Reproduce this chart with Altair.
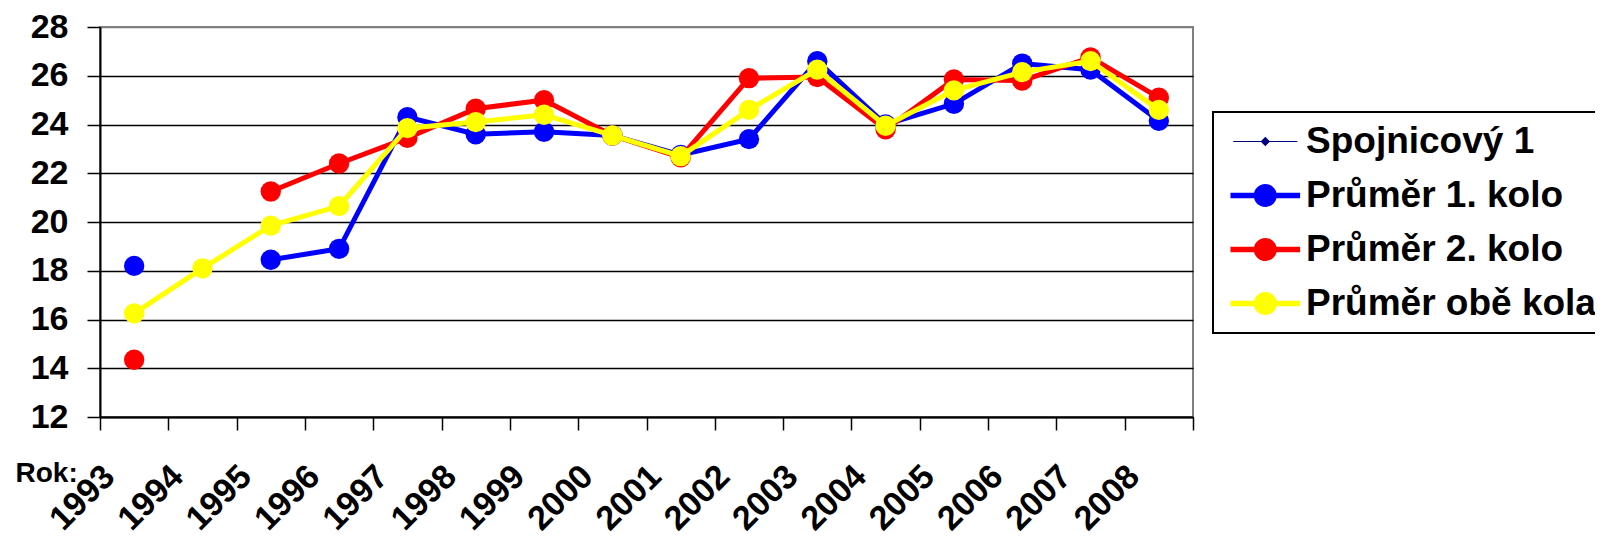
import altair as alt
import pandas as pd

years = ["1993", "1994", "1995", "1996", "1997", "1998", "1999", "2000",
         "2001", "2002", "2003", "2004", "2005", "2006", "2007", "2008"]
kolo1 = [18.2, None, 18.45, 18.9, 24.3, 23.6, 23.7, 23.55, 22.75, 23.4, 26.6, 24.0, 24.85, 26.5, 26.25, 24.15]
kolo2 = [14.35, None, 21.25, 22.4, 23.45, 24.65, 25.0, 23.55, 22.65, 25.9, 25.95, 23.8, 25.85, 25.8, 26.75, 25.1]
obe = [16.25, 18.1, 19.85, 20.65, 23.85, 24.1, 24.4, 23.55, 22.7, 24.6, 26.25, 23.95, 25.4, 26.15, 26.6, 24.6]

series_names = ["Spojnicový 1", "Průměr 1. kolo", "Průměr 2. kolo", "Průměr obě kola"]
series_colors = ["#000080", "#0000FF", "#FF0000", "#FFFF00"]

# legend symbol shapes (line with marker)
sym_circle = "M-1,-0.22L4.8,-0.22L4.8,0.22L-1,0.22Z M0.94,0A0.96,0.96,0,1,1,2.86,0A0.96,0.96,0,1,1,0.94,0Z"
sym_diamond = "M-0.77,-0.05L4.57,-0.05L4.57,0.05L-0.77,0.05Z M1.9,-0.39L2.29,0L1.9,0.39L1.51,0Z"
series_shapes = [sym_diamond, sym_circle, sym_circle, sym_circle]

rows = []
for name, vals in [(series_names[1], kolo1), (series_names[2], kolo2), (series_names[3], obe)]:
    for yr, v in zip(years, vals):
        rows.append({"rok": yr, "hodnota": v, "serie": name})
df = pd.DataFrame(rows)

FONT = "Liberation Sans"

x_enc = alt.X(
    "rok:O",
    scale=alt.Scale(type="band", domain=years, paddingInner=0, paddingOuter=0),
    axis=alt.Axis(
        title="Rok:", tickBand="extent", labelAngle=-45, labelAlign="right",
        labelBaseline="middle", labelOffset=-25, labelPadding=41, tickSize=13,
        labelFontSize=34, grid=False,
        titleX=-85, titleY=56, titleAlign="left", titleBaseline="middle",
        titleAngle=0, titleFontSize=28, titleFont=FONT, titleFontWeight="bold",
        titleColor="black",
    ),
)
y_enc = alt.Y(
    "hodnota:Q",
    scale=alt.Scale(domain=[12, 28], nice=False, zero=False),
    axis=alt.Axis(
        title=None, values=list(range(12, 29, 2)), tickSize=13, labelPadding=19,
        labelFontSize=34, grid=True, gridWidth=1.5,
        gridColor={"condition": {"test": "datum.value == 28", "value": "#808080"}, "value": "black"},
    ),
)

base = alt.Chart(df)
layers = []
for name, col in zip(series_names[1:], series_colors[1:]):
    sub = base.transform_filter(alt.datum.serie == name)
    layers.append(
        sub.mark_line(color=col, strokeWidth=5, invalid="break-paths-filter-domains").encode(x=x_enc, y=y_enc)
    )
    layers.append(
        sub.mark_circle(color=col, size=415, opacity=1).encode(x=x_enc, y=y_enc)
    )

legend_def = alt.Legend(
    title=None, orient="none", legendX=1113, legendY=85,
    fillColor="white", padding=11,
    labelFont=FONT, labelFontWeight="bold", labelFontSize=37, labelColor="black",
    labelLimit=500, labelOffset=45, rowPadding=16, symbolSize=576,
    symbolStrokeWidth=0, symbolOpacity=1,
)
legend_layer = alt.Chart(pd.DataFrame({"serie": series_names})).transform_filter("false").mark_point(
    filled=True, size=576, opacity=1
).encode(
    color=alt.Color("serie:N", scale=alt.Scale(domain=series_names, range=series_colors), legend=legend_def),
    shape=alt.Shape("serie:N", scale=alt.Scale(domain=series_names, range=series_shapes), legend=legend_def),
)
layers.append(legend_layer)

chart = alt.layer(*layers).properties(
    width=1093, height=390,
    autosize=alt.AutoSizeParams(type="none"),
    padding={"left": 92, "top": 19, "right": 402, "bottom": 120},
).configure_view(
    fill="#e1e3e6", stroke="#808080", strokeWidth=2,
).configure_axis(
    labelFont=FONT, labelFontWeight="bold", labelColor="black",
    domainColor="black", domainWidth=2, tickColor="black", tickWidth=1.5,
).configure_legend(
    strokeColor="black", strokeWidth=2,
)

chart.save("out.html", embed_options={"renderer": "svg", "actions": False})
